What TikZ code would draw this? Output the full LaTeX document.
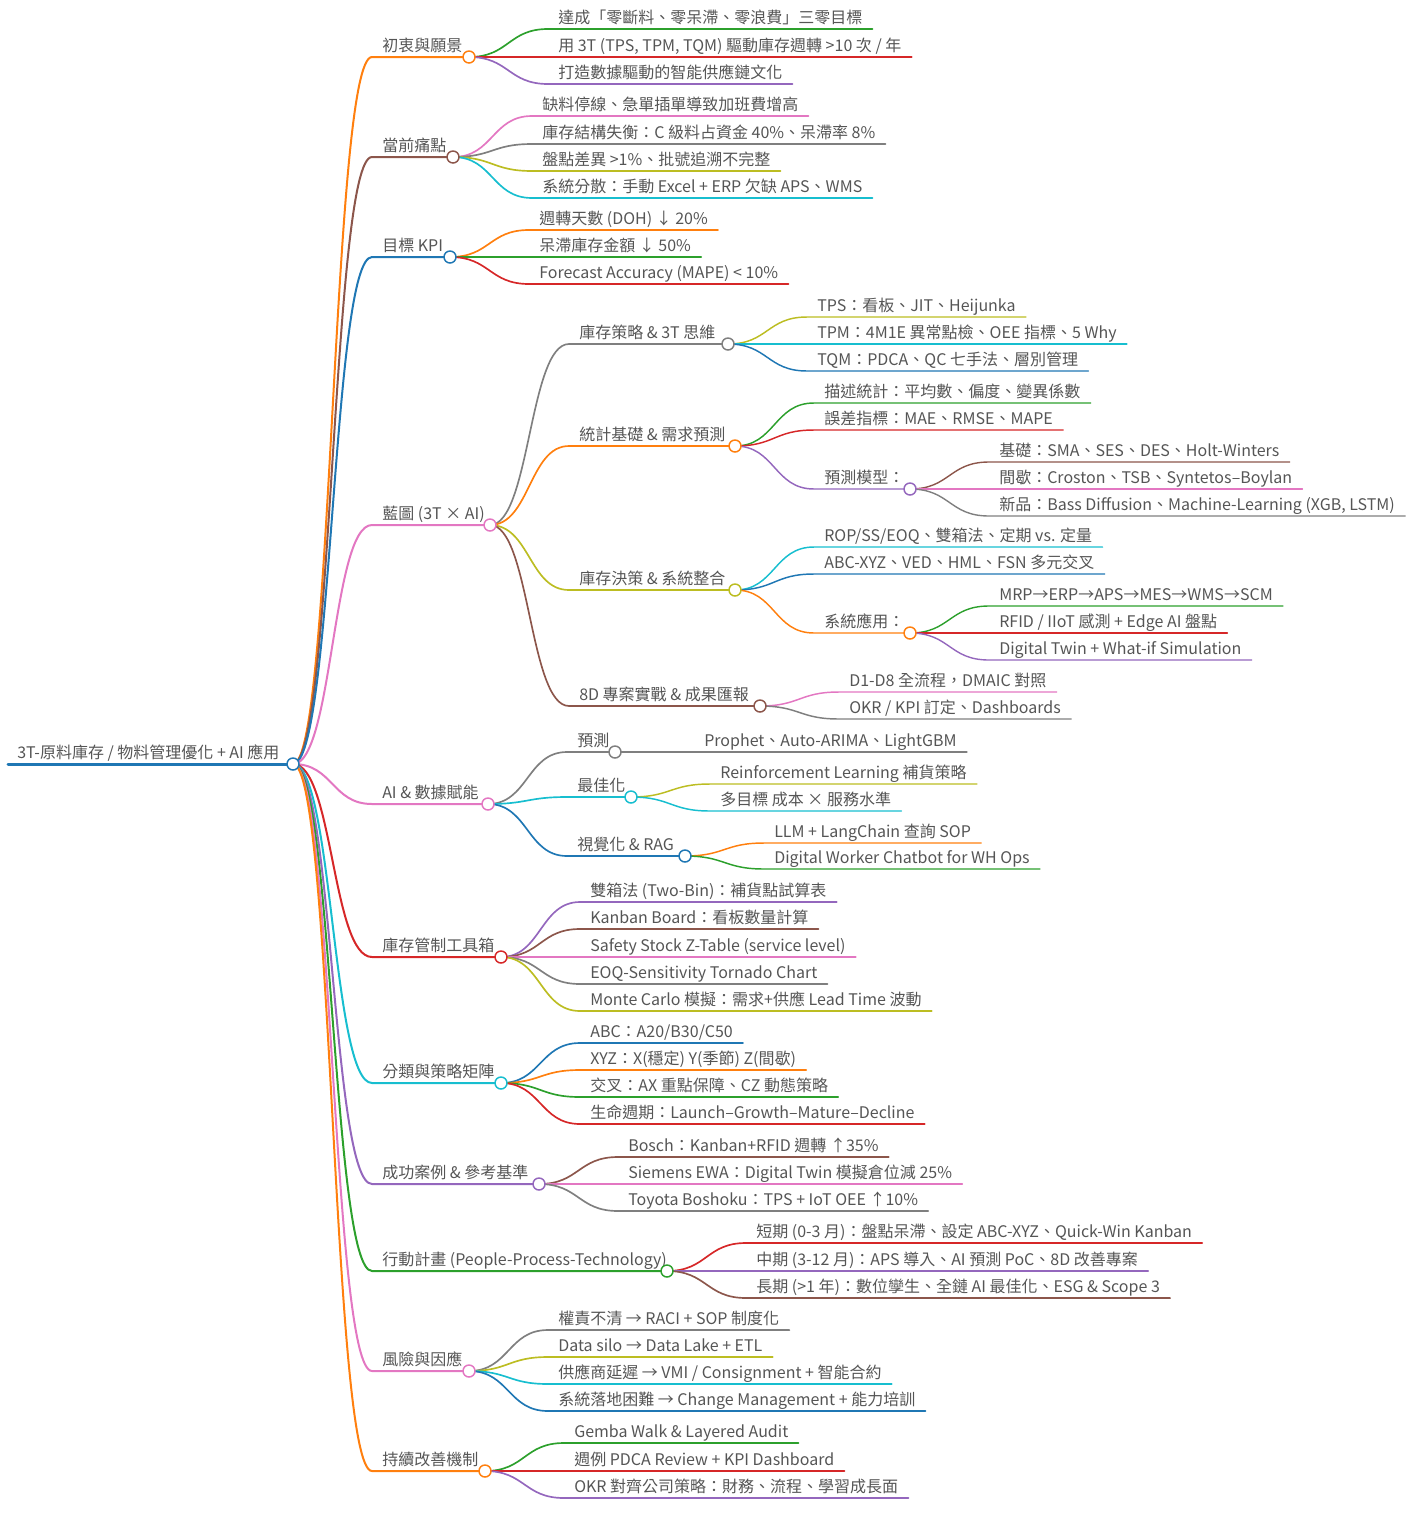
\documentclass[tikz,border=0pt]{standalone}
\usepackage{fontspec}
\setmainfont{Noto Sans CJK TC}
\usetikzlibrary{calc}

\definecolor{cBlue}{HTML}{1F77B4}
\definecolor{cOrange}{HTML}{FF7F0E}
\definecolor{cGreen}{HTML}{2CA02C}
\definecolor{cRed}{HTML}{D62728}
\definecolor{cPurple}{HTML}{9467BD}
\definecolor{cBrown}{HTML}{8C564B}
\definecolor{cPink}{HTML}{E377C2}
\definecolor{cGray}{HTML}{7F7F7F}
\definecolor{cOlive}{HTML}{BCBD22}
\definecolor{cCyan}{HTML}{17BECF}
\definecolor{txt}{HTML}{555555}

\pgfdeclarelayer{front}
\pgfsetlayers{main,front}

\tikzset{
  mmtext/.style={font=\fontsize{12}{14}\selectfont, text=txt, inner sep=0pt, anchor=base west},
  w0/.style={line width=2.25pt},
  w1/.style={line width=1.5pt},
  w2/.style={line width=1.25pt},
  w3/.style={line width=1.1pt},
  w4/.style={line width=1.05pt},
  hubdot/.style={circle, draw=#1, fill=white, line width=1.1pt, minimum size=9pt, inner sep=0pt}
}

% parent, name, x start, x circle, y, colour, width, text
\newcommand{\mmhub}[8]{%
  \coordinate (#2-s) at (#3,#5);
  \coordinate (#2-e) at (#4,#5);
  \node[mmtext] (#2) at ($(#2-s)+(10,-5.5)$) {#8};
  \draw[#6,#7] (#1-e) .. controls +(40,0) and +(-40,0) .. (#2-s) -- (#2-e);
  \begin{pgfonlayer}{front}\node[hubdot=#6] (#2-c) at (#2-e) {};\end{pgfonlayer}
}
% parent, name, x start, y, colour, width, text
\newcommand{\mmleaf}[7]{%
  \coordinate (#2-s) at (#3,#4);
  \node[mmtext] (#2) at ($(#2-s)+(10,-5.5)$) {#7};
  \draw[#5,#6] (#1-e) .. controls +(40,0) and +(-40,0) .. (#2-s) -- ($(#2-s -| #2.east)+(10,0)$);
}

\begin{document}
\begin{tikzpicture}[x=0.75pt, y=-0.75pt, line cap=round]
  \useasboundingbox (0,0) rectangle (1416,1514);

  % root
  \coordinate (root-s) at (8,764);
  \coordinate (root-e) at (293,764);
  \node[mmtext] (root) at ($(root-s)+(9,-5.5)$) {3T-原料庫存 / 物料管理優化 + AI 應用};
  \draw[cBlue, w0] (root-s) -- (root-e);
  \begin{pgfonlayer}{front}\node[hubdot=cBlue] (root-c) at (root-e) {};\end{pgfonlayer}

  % 初衷與願景
  \mmhub{root}{vis}{372}{469}{57}{cOrange}{w1}{初衷與願景}
  \mmleaf{vis}{vis1}{548}{29}{cGreen}{w2}{達成「零斷料、零呆滯、零浪費」三零目標}
  \mmleaf{vis}{vis2}{548}{57}{cRed}{w2}{用 3T (TPS, TPM, TQM) 驅動庫存週轉 >10 次 / 年}
  \mmleaf{vis}{vis3}{548}{84}{cPurple}{w2}{打造數據驅動的智能供應鏈文化}

  % 當前痛點
  \mmhub{root}{pain}{372}{453}{157}{cBrown}{w1}{當前痛點}
  \mmleaf{pain}{pain1}{532}{116}{cPink}{w2}{缺料停線、急單插單導致加班費增高}
  \mmleaf{pain}{pain2}{532}{144}{cGray}{w2}{庫存結構失衡：C 級料占資金 40\%、呆滯率 8\%}
  \mmleaf{pain}{pain3}{532}{171}{cOlive}{w2}{盤點差異 >1\%、批號追溯不完整}
  \mmleaf{pain}{pain4}{532}{198}{cCyan}{w2}{系統分散：手動 Excel + ERP 欠缺 APS、WMS}

  % 目標 KPI
  \mmhub{root}{kpi}{372}{450}{257}{cBlue}{w1}{目標 KPI}
  \mmleaf{kpi}{kpi1}{529}{230}{cOrange}{w2}{週轉天數 (DOH) ↓ 20\%}
  \mmleaf{kpi}{kpi2}{529}{257}{cGreen}{w2}{呆滯庫存金額 ↓ 50\%}
  \mmleaf{kpi}{kpi3}{529}{284}{cRed}{w2}{Forecast Accuracy (MAPE) < 10\%}

  % 藍圖
  \mmhub{root}{plan}{372}{490}{525}{cPink}{w1}{藍圖 (3T × AI)}
  \mmhub{plan}{strat}{569}{728}{344}{cGray}{w2}{庫存策略 \& 3T 思維}
  \mmleaf{strat}{strat1}{807}{317}{cOlive}{w3}{TPS：看板、JIT、Heijunka}
  \mmleaf{strat}{strat2}{807}{344}{cCyan}{w3}{TPM：4M1E 異常點檢、OEE 指標、5 Why}
  \mmleaf{strat}{strat3}{807}{371}{cBlue}{w3}{TQM：PDCA、QC 七手法、層別管理}
  \mmhub{plan}{stat}{569}{735}{446}{cOrange}{w2}{統計基礎 \& 需求預測}
  \mmleaf{stat}{stat1}{814}{403}{cGreen}{w3}{描述統計：平均數、偏度、變異係數}
  \mmleaf{stat}{stat2}{814}{430}{cRed}{w3}{誤差指標：MAE、RMSE、MAPE}
  \mmhub{stat}{model}{814}{910}{489}{cPurple}{w3}{預測模型：}
  \mmleaf{model}{model1}{989}{462}{cBrown}{w4}{基礎：SMA、SES、DES、Holt-Winters}
  \mmleaf{model}{model2}{989}{489}{cPink}{w4}{間歇：Croston、TSB、Syntetos–Boylan}
  \mmleaf{model}{model3}{989}{516}{cGray}{w4}{新品：Bass Diffusion、Machine-Learning (XGB, LSTM)}
  \mmhub{plan}{dec}{569}{735}{590}{cOlive}{w2}{庫存決策 \& 系統整合}
  \mmleaf{dec}{dec1}{814}{547}{cCyan}{w3}{ROP/SS/EOQ、雙箱法、定期 vs. 定量}
  \mmleaf{dec}{dec2}{814}{574}{cBlue}{w3}{ABC-XYZ、VED、HML、FSN 多元交叉}
  \mmhub{dec}{sys}{814}{910}{633}{cOrange}{w3}{系統應用：}
  \mmleaf{sys}{sys1}{989}{606}{cGreen}{w4}{MRP→ERP→APS→MES→WMS→SCM}
  \mmleaf{sys}{sys2}{989}{633}{cRed}{w4}{RFID / IIoT 感測 + Edge AI 盤點}
  \mmleaf{sys}{sys3}{989}{660}{cPurple}{w4}{Digital Twin + What-if Simulation}
  \mmhub{plan}{eightd}{569}{760}{706}{cBrown}{w2}{8D 專案實戰 \& 成果匯報}
  \mmleaf{eightd}{eightd1}{839}{692}{cPink}{w3}{D1-D8 全流程，DMAIC 對照}
  \mmleaf{eightd}{eightd2}{839}{719}{cGray}{w3}{OKR / KPI 訂定、Dashboards}

  % AI & 數據賦能
  \mmhub{root}{ai}{372}{488}{804}{cPink}{w1}{AI \& 數據賦能}
  \mmhub{ai}{fc}{567}{615}{752}{cGray}{w2}{預測}
  \mmleaf{fc}{fc1}{694}{752}{cGray}{w3}{Prophet、Auto-ARIMA、LightGBM}
  \mmhub{ai}{opt}{567}{631}{797}{cCyan}{w2}{最佳化}
  \mmleaf{opt}{opt1}{710}{784}{cOlive}{w3}{Reinforcement Learning 補貨策略}
  \mmleaf{opt}{opt2}{710}{811}{cCyan}{w3}{多目標 成本 × 服務水準}
  \mmhub{ai}{rag}{567}{685}{856}{cBlue}{w2}{視覺化 \& RAG}
  \mmleaf{rag}{rag1}{764}{843}{cOrange}{w3}{LLM + LangChain 查詢 SOP}
  \mmleaf{rag}{rag2}{764}{869}{cGreen}{w3}{Digital Worker Chatbot for WH Ops}

  % 庫存管制工具箱
  \mmhub{root}{tool}{372}{501}{957}{cRed}{w1}{庫存管制工具箱}
  \mmleaf{tool}{tool1}{580}{902}{cPurple}{w2}{雙箱法 (Two-Bin)：補貨點試算表}
  \mmleaf{tool}{tool2}{580}{929}{cBrown}{w2}{Kanban Board：看板數量計算}
  \mmleaf{tool}{tool3}{580}{957}{cPink}{w2}{Safety Stock Z-Table (service level)}
  \mmleaf{tool}{tool4}{580}{984}{cGray}{w2}{EOQ-Sensitivity Tornado Chart}
  \mmleaf{tool}{tool5}{580}{1011}{cOlive}{w2}{Monte Carlo 模擬：需求+供應 Lead Time 波動}

  % 分類與策略矩陣
  \mmhub{root}{cls}{372}{501}{1083}{cCyan}{w1}{分類與策略矩陣}
  \mmleaf{cls}{cls1}{580}{1043}{cBlue}{w2}{ABC：A20/B30/C50}
  \mmleaf{cls}{cls2}{580}{1070}{cOrange}{w2}{XYZ：X(穩定) Y(季節) Z(間歇)}
  \mmleaf{cls}{cls3}{580}{1097}{cGreen}{w2}{交叉：AX 重點保障、CZ 動態策略}
  \mmleaf{cls}{cls4}{580}{1124}{cRed}{w2}{生命週期：Launch–Growth–Mature–Decline}

  % 成功案例
  \mmhub{root}{case}{372}{539}{1184}{cPurple}{w1}{成功案例 \& 參考基準}
  \mmleaf{case}{case1}{618}{1157}{cBrown}{w2}{Bosch：Kanban+RFID 週轉 ↑35\%}
  \mmleaf{case}{case2}{618}{1184}{cPink}{w2}{Siemens EWA：Digital Twin 模擬倉位減 25\%}
  \mmleaf{case}{case3}{618}{1211}{cGray}{w2}{Toyota Boshoku：TPS + IoT OEE ↑10\%}

  % 行動計畫
  \mmhub{root}{act}{372}{667}{1271}{cGreen}{w1}{行動計畫 (People-Process-Technology)}
  \mmleaf{act}{act1}{746}{1243}{cRed}{w2}{短期 (0-3 月)：盤點呆滯、設定 ABC-XYZ、Quick-Win Kanban}
  \mmleaf{act}{act2}{746}{1271}{cPurple}{w2}{中期 (3-12 月)：APS 導入、AI 預測 PoC、8D 改善專案}
  \mmleaf{act}{act3}{746}{1298}{cBrown}{w2}{長期 (>1 年)：數位孿生、全鏈 AI 最佳化、ESG \& Scope 3}

  % 風險與因應
  \mmhub{root}{risk}{372}{469}{1371}{cPink}{w1}{風險與因應}
  \mmleaf{risk}{risk1}{548}{1330}{cGray}{w2}{權責不清 → RACI + SOP 制度化}
  \mmleaf{risk}{risk2}{548}{1357}{cOlive}{w2}{Data silo → Data Lake + ETL}
  \mmleaf{risk}{risk3}{548}{1384}{cCyan}{w2}{供應商延遲 → VMI / Consignment + 智能合約}
  \mmleaf{risk}{risk4}{548}{1411}{cBlue}{w2}{系統落地困難 → Change Management + 能力培訓}

  % 持續改善機制
  \mmhub{root}{imp}{372}{485}{1471}{cOrange}{w1}{持續改善機制}
  \mmleaf{imp}{imp1}{564}{1443}{cGreen}{w2}{Gemba Walk \& Layered Audit}
  \mmleaf{imp}{imp2}{564}{1471}{cRed}{w2}{週例 PDCA Review + KPI Dashboard}
  \mmleaf{imp}{imp3}{564}{1498}{cPurple}{w2}{OKR 對齊公司策略：財務、流程、學習成長面}
\end{tikzpicture}
\end{document}
